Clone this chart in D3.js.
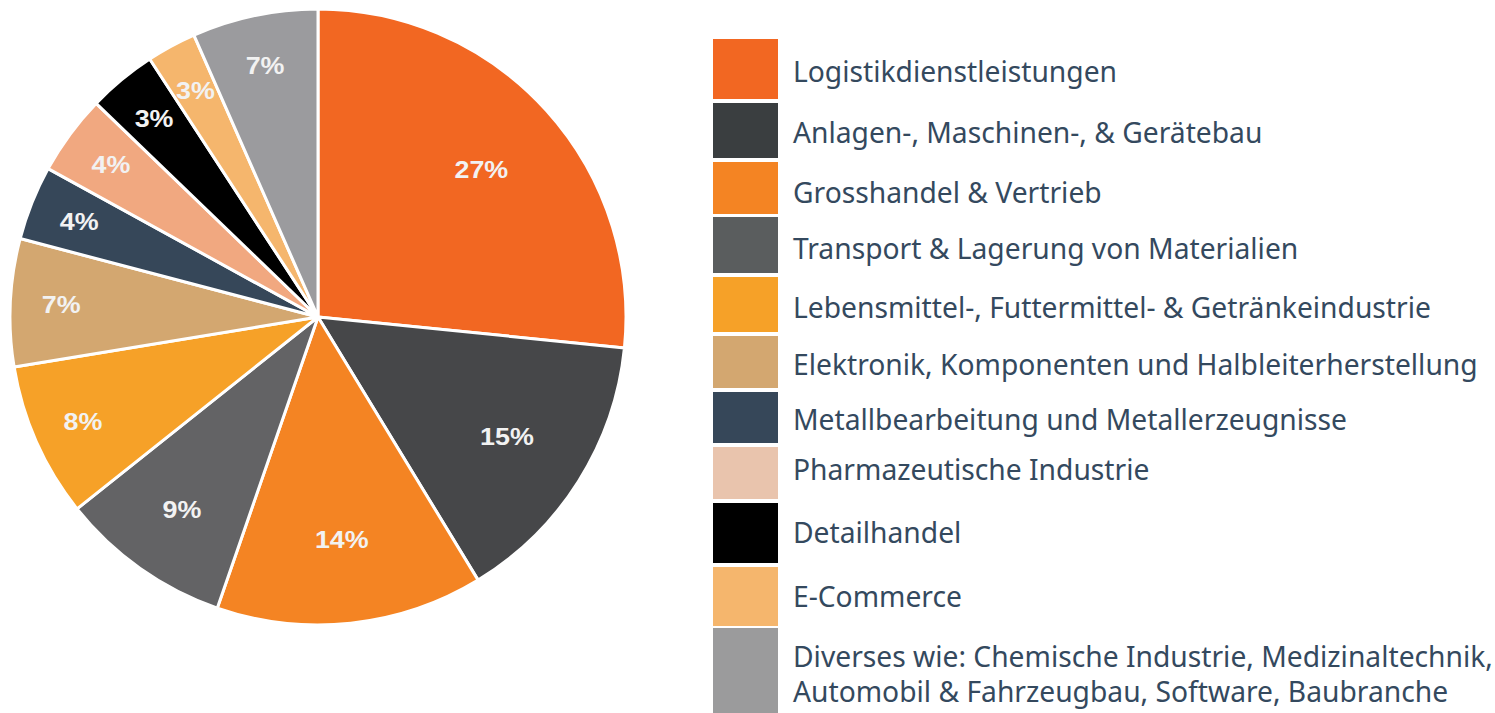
<!DOCTYPE html>
<html>
<head>
<meta charset="utf-8">
<script src="https://cdn.jsdelivr.net/npm/d3@7"></script>
<style>
  html, body { margin: 0; padding: 0; background: #fff; }
  svg { display: block; }
</style>
</head>
<body>
<svg id="chart" width="1495" height="713"></svg>
<script>
const categories = [
  "Logistikdienstleistungen",
  "Anlagen-, Maschinen-, & Gerätebau",
  "Grosshandel & Vertrieb",
  "Transport & Lagerung von Materialien",
  "Lebensmittel-, Futtermittel- & Getränkeindustrie",
  "Elektronik, Komponenten und Halbleiterherstellung",
  "Metallbearbeitung und Metallerzeugnisse",
  "Pharmazeutische Industrie",
  "Detailhandel",
  "E-Commerce",
  "Diverses wie: Chemische Industrie, Medizinaltechnik,\nAutomobil & Fahrzeugbau, Software, Baubranche"
];
const values = [26.6, 14.7, 14.0, 9.0, 8.1, 6.7, 3.9, 4.2, 3.6, 2.6, 6.6];
const valueLabels = ["27%", "15%", "14%", "9%", "8%", "7%", "4%", "4%", "3%", "3%", "7%"];
const pieColors = ["#f26722", "#464749", "#f48423", "#636365", "#f6a128", "#d3a770", "#364759", "#f1a880", "#000000", "#f5b66d", "#9b9b9e"];
const legendColors = ["#f26722", "#3a3e40", "#f48423", "#5a5d5e", "#f6a128", "#d3a770", "#364759", "#e9c4ad", "#000000", "#f5b66d", "#9b9b9c"];

const svg = d3.select("#chart");
const cx = 318, cy = 317, R = 308;

const data = categories.map((c, i) => ({ cat: c, value: values[i], label: valueLabels[i], i }));
const total = d3.sum(values);

const pie = d3.pie().value(d => d.value).sort(null);
const arc = d3.arc().innerRadius(0).outerRadius(R);

const g = svg.append("g").attr("transform", `translate(${cx},${cy})`);
const arcs = pie(data);

g.selectAll("path").data(arcs).join("path")
  .attr("d", arc)
  .attr("fill", d => pieColors[d.data.i])
  .attr("stroke", "#fff")
  .attr("stroke-width", 3)
  .attr("stroke-linejoin", "round");

// label radius: large slices closer to centre, small slices nearer the rim
function labelRadius(frac) {
  if (frac > 0.2) return R * 0.715;
  if (frac > 0.12) return R * 0.725;
  if (frac > 0.085) return R * 0.765;
  return R * 0.835;
}

g.selectAll("text").data(arcs).join("text")
  .attr("transform", d => {
    const r = labelRadius(d.data.value / total);
    const a = (d.startAngle + d.endAngle) / 2;
    return `translate(${Math.sin(a) * r},${-Math.cos(a) * r}) scale(1.12,1)`;
  })
  .attr("text-anchor", "middle")
  .attr("dominant-baseline", "central")
  .attr("fill", "#f2f2f2")
  .style("font-family", "'Liberation Sans', Arial, sans-serif")
  .style("font-weight", "bold")
  .style("font-size", "24px")
  .text(d => d.data.label);

// Legend layout (pixel rows of the swatches and text baselines)
const rows = [[39,99],[103,158],[162,214],[217,273],[277,332],[336,388],[392,443],[447,499],[503,563],[567,626],[628,716]];
const baselines = [82, 143, 203, 259, 318, 375, 430, 480, 543, 607, 667];
const lineGap = 35;

const legend = svg.append("g");
const item = legend.selectAll("g").data(data).join("g");
item.append("rect")
  .attr("x", 713)
  .attr("y", d => rows[d.i][0])
  .attr("width", 65)
  .attr("height", d => rows[d.i][1] - rows[d.i][0])
  .attr("fill", d => legendColors[d.i]);

const textEls = item.append("text")
  .attr("x", 793)
  .attr("fill", "#34495e")
  .style("font-family", "'Noto Sans', 'Open Sans', sans-serif")
  .style("font-size", "26px");

textEls.each(function(d) {
  const lines = d.cat.split("\n");
  const t = d3.select(this);
  lines.forEach((ln, k) => {
    t.append("tspan").attr("x", 793).attr("y", baselines[d.i] + k * lineGap).text(ln);
  });
});

// fit font size so the longest legend line spans like the reference (~685px)
const ref = textEls.filter(d => d.i === 5).node();
const w = ref.getComputedTextLength();
const fs = 26 * 685 / w;
textEls.style("font-size", fs + "px");
</script>
</body>
</html>
